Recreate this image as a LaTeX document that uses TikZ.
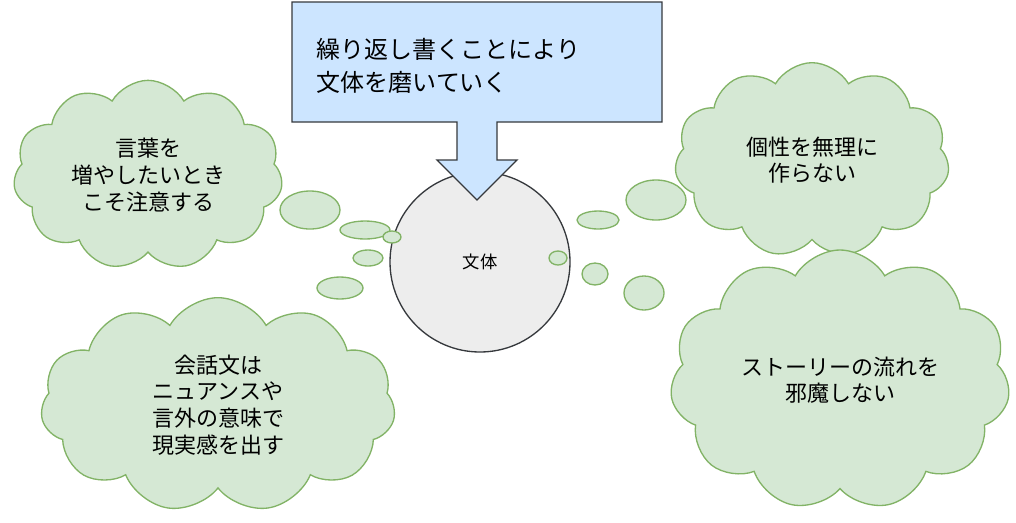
\documentclass[tikz,border=0pt]{standalone}
\usepackage{fontspec}
\setmainfont{Noto Sans CJK JP}
\usetikzlibrary{shapes.symbols,shapes.geometric}
\definecolor{thinkfill}{HTML}{D5E8D4}
\definecolor{thinkline}{HTML}{82B366}
\definecolor{notefill}{HTML}{CCE5FF}
\definecolor{noteline}{HTML}{36393D}
\tikzset{
  thought/.style={cloud,cloud puffs=11,cloud puff arc=120,aspect=1.4,fill=thinkfill,draw=thinkline,line width=1pt,align=center,font=\fontsize{16.5}{20}\selectfont,inner sep=0pt},
  bubble/.style={ellipse,fill=thinkfill,draw=thinkline,line width=1pt,inner sep=0pt}
}
\begin{document}
\begin{tikzpicture}[x=0.75pt,y=-0.75pt]
  \useasboundingbox (0,0) rectangle (1016,522);
  % centre
  \node[circle,fill=black!7,draw=noteline,line width=1pt,minimum size=135pt,font=\fontsize{13}{15}\selectfont] (core) at (480,262) {文体};
  % clouds
  \node[thought,minimum width=202pt,minimum height=142pt] (words) at (148,175) {言葉を\\増やしたいとき\\こそ注意する};
  \node[thought,minimum width=266pt,minimum height=161pt] (talk) at (218,405) {会話文は\\ニュアンスや\\言外の意味で\\現実感を出す};
  \node[thought,minimum width=206pt,minimum height=146pt] (self) at (812,160) {個性を無理に\\作らない};
  \node[thought,minimum width=255pt,minimum height=195pt] (story) at (840,380) {ストーリーの流れを\\邪魔しない};
  % bubbles
  \foreach \name/\x/\y/\w/\h in {a1/310/210/60/38, a2/365/230/50/18, a3/392/237/18/12, a4/368/258/30/16, a5/340/288/46/22,
                                 b1/656/200/60/40, b2/598/220/42/18, b3/558/258/18/14, b4/595/274/26/22, b5/644/293/40/34}
    \node[bubble,minimum width=0.75*\w pt,minimum height=0.75*\h pt] (\name) at (\x,\y) {};
  % callout
  \draw[fill=notefill,draw=noteline,line width=1pt]
    (292,2) -- (662,2) -- (662,122) -- (497,122) -- (497,160) -- (517,160) -- (477,200)
    -- (437,160) -- (457,160) -- (457,122) -- (292,122) -- cycle;
  \node[anchor=west,align=left,font=\fontsize{18}{24.5}\selectfont] (note) at (312,66) {繰り返し書くことにより\\文体を磨いていく};
\end{tikzpicture}
\end{document}
